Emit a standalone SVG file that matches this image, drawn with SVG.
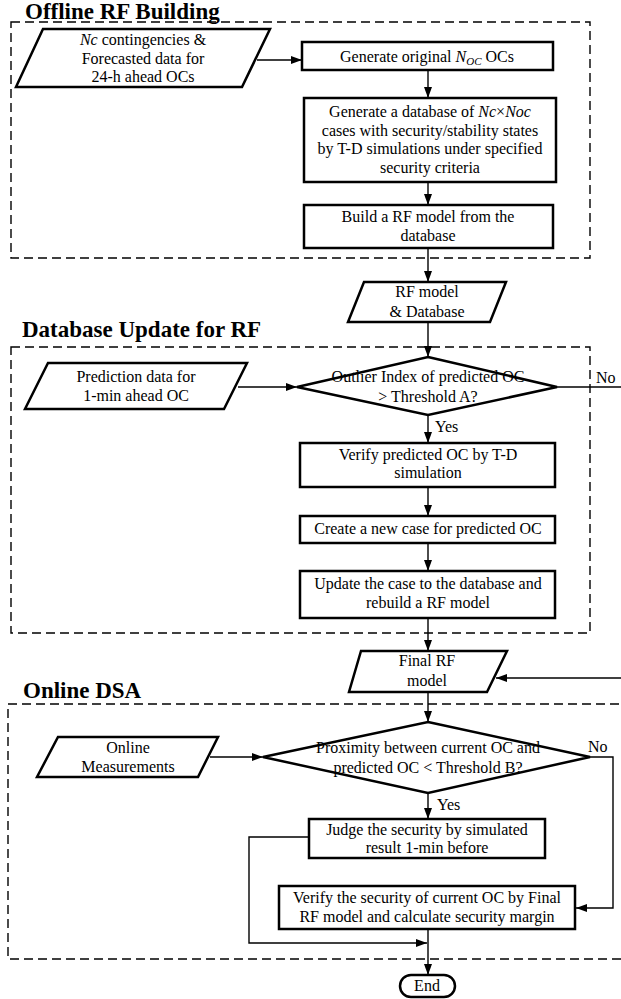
<svg xmlns="http://www.w3.org/2000/svg" width="621" height="999" viewBox="0 0 621 999">
<style>
text{font-family:"Liberation Serif","Times New Roman",serif;font-size:16px;fill:#000}
.t{text-anchor:middle}
.title{font-size:23px;font-weight:bold}
.i{font-style:italic}
.node{fill:#fff;stroke:#000;stroke-width:2.5;stroke-linejoin:miter}
.dash{fill:none;stroke:#000;stroke-width:1.4;stroke-dasharray:9,5}
.c{fill:none;stroke:#000;stroke-width:1.4}
.a{marker-end:url(#ah)}
</style>
<defs>
<marker id="ah" markerUnits="userSpaceOnUse" markerWidth="11" markerHeight="8" refX="11" refY="4" orient="auto">
<path d="M0,0 L11,4 L0,8 z" fill="#000"/>
</marker>
</defs>
<g id="groups">
<rect class="dash" x="11" y="22" width="579" height="236"/>
<text class="title" x="25" y="19">Offline RF Building</text>
<rect class="dash" x="11" y="347" width="579" height="286"/>
<text class="title" x="22" y="337">Database Update for RF</text>
<rect class="dash" x="8" y="704" width="620" height="255"/>
<text class="title" x="23" y="698">Online DSA</text>
</g>
<g id="connectors">
<path class="c a" d="M257,60 H302"/>
<path class="c a" d="M428,70 V98"/>
<path class="c a" d="M428,182 V205"/>
<path class="c a" d="M428,248 V282"/>
<path class="c a" d="M428,322 V357"/>
<path class="c a" d="M238,387 H297"/>
<path class="c" d="M557,387 H621"/>
<path class="c a" d="M428,415 V443"/>
<path class="c a" d="M428,487 V516"/>
<path class="c a" d="M428,543 V571"/>
<path class="c a" d="M428,618 V651"/>
<path class="c a" d="M621,678 H496"/>
<path class="c a" d="M428,692 V722"/>
<path class="c a" d="M210,757 H263"/>
<path class="c a" d="M590,757 H613 V908 H576"/>
<path class="c a" d="M428,793 V819"/>
<path class="c a" d="M309,837 H249 V943 H427"/>
<path class="c a" d="M428,929 V975"/>
</g>
<g id="n-input1">
<polygon class="node" points="43,29 270,29 242,87 16,87"/>
<text class="t" x="143" y="45"><tspan class="i">Nc</tspan> contingencies &amp;</text>
<text class="t" x="143" y="64">Forecasted data for</text>
<text class="t" x="143" y="82">24-h ahead OCs</text>
</g>
<g id="n-gen-oc">
<rect class="node" x="302" y="42" width="251" height="28"/>
<text class="t" x="427" y="62">Generate original <tspan class="i">N</tspan><tspan class="i" font-size="11" dy="3">OC</tspan><tspan dy="-3"> OCs</tspan></text>
</g>
<g id="n-gen-db">
<rect class="node" x="304" y="98" width="252" height="84"/>
<text class="t" x="430" y="117">Generate a database of <tspan class="i">Nc</tspan>×<tspan class="i">Noc</tspan></text>
<text class="t" x="430" y="136">cases with security/stability states</text>
<text class="t" x="430" y="154">by T-D simulations under specified</text>
<text class="t" x="430" y="173">security criteria</text>
</g>
<g id="n-build-rf">
<rect class="node" x="304" y="205" width="249" height="43"/>
<text class="t" x="428" y="222">Build a RF model from the</text>
<text class="t" x="428" y="241">database</text>
</g>
<g id="n-rf-db">
<polygon class="node" points="364,282 506,282 490,322 348,322"/>
<text class="t" x="427" y="297">RF model</text>
<text class="t" x="427" y="317">&amp; Database</text>
</g>
<g id="n-pred">
<polygon class="node" points="48,363 247,363 224,409 25,409"/>
<text class="t" x="136" y="382">Prediction data for</text>
<text class="t" x="136" y="401">1-min ahead OC</text>
</g>
<g id="n-dec1">
<polygon class="node" points="428,357 557,387 428,415 297,387"/>
<text class="t" x="428" y="382">Outlier Index of predicted OC</text>
<text class="t" x="428" y="402">&gt; Threshold A?</text>
</g>
<text x="596" y="383">No</text>
<text x="435" y="432">Yes</text>
<g id="n-verify-td">
<rect class="node" x="300" y="443" width="255" height="44"/>
<text class="t" x="428" y="460">Verify predicted OC by T-D</text>
<text class="t" x="428" y="478">simulation</text>
</g>
<g id="n-create">
<rect class="node" x="300" y="516" width="255" height="27"/>
<text class="t" x="428" y="534">Create a new case for predicted OC</text>
</g>
<g id="n-update">
<rect class="node" x="300" y="571" width="255" height="47"/>
<text class="t" x="428" y="589">Update the case to the database and</text>
<text class="t" x="428" y="608">rebuild a RF model</text>
</g>
<g id="n-final-rf">
<polygon class="node" points="361,651 507,651 487,692 349,692"/>
<text class="t" x="427" y="666">Final RF</text>
<text class="t" x="427" y="686">model</text>
</g>
<g id="n-online">
<polygon class="node" points="58,737 218,737 198,777 37,777"/>
<text class="t" x="128" y="753">Online</text>
<text class="t" x="128" y="772">Measurements</text>
</g>
<g id="n-dec2">
<polygon class="node" points="428,722 590,757 428,793 263,757"/>
<text class="t" x="428" y="753">Proximity between current OC and</text>
<text class="t" x="428" y="773">predicted OC &lt; Threshold B?</text>
</g>
<text x="588" y="752">No</text>
<text x="437" y="810">Yes</text>
<g id="n-judge">
<rect class="node" x="309" y="819" width="236" height="39"/>
<text class="t" x="427" y="835">Judge the security by simulated</text>
<text class="t" x="427" y="853">result 1-min before</text>
</g>
<g id="n-verify-final">
<rect class="node" x="279" y="886" width="296" height="43"/>
<text class="t" x="427" y="903">Verify the security of current OC by Final</text>
<text class="t" x="427" y="922">RF model and calculate security margin</text>
</g>
<g id="n-end">
<rect class="node" x="400" y="975" width="55" height="22" rx="11" ry="11"/>
<text class="t" x="427" y="991">End</text>
</g>
</svg>
